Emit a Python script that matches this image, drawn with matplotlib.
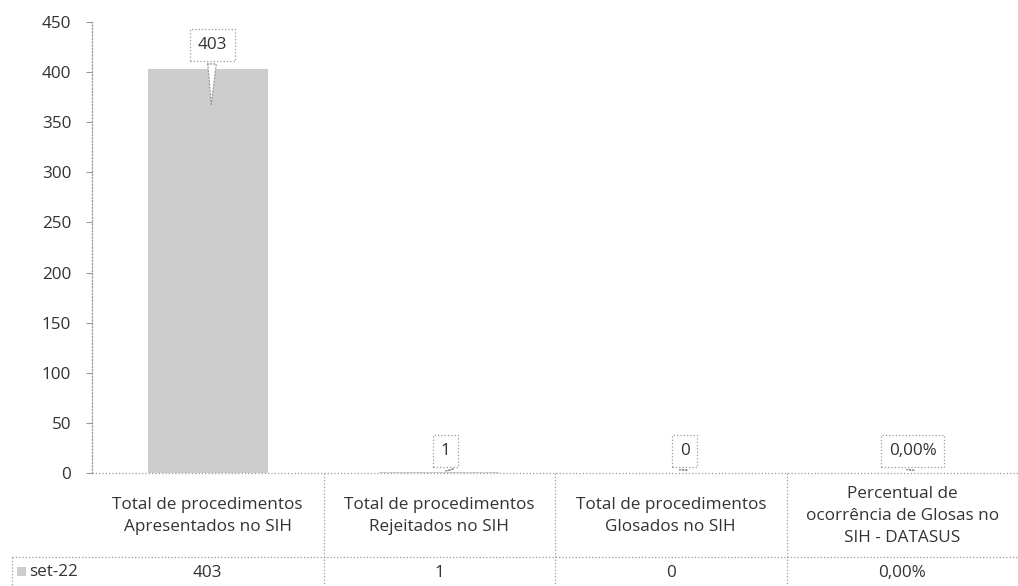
import matplotlib
matplotlib.use("Agg")
import matplotlib.pyplot as plt
from matplotlib.patches import Rectangle

categories = ["Total de procedimentos\nApresentados no SIH",
              "Total de procedimentos\nRejeitados no SIH",
              "Total de procedimentos\nGlosados no SIH",
              "Percentual de\nocorrência de Glosas no\nSIH - DATASUS"]
values = [403, 1, 0, 0.0]
value_labels = ["403", "1", "0", "0,00%"]
series_name = "set-22"
yticks = [0, 50, 100, 150, 200, 250, 300, 350, 400, 450]

plt.rcParams['font.family'] = ['Open Sans', 'DejaVu Sans']
W, H = 1018, 586
fig = plt.figure(figsize=(W/100, H/100), dpi=100)
ax = fig.add_axes([92/W, (H-473)/H, (W-92)/W, (473-22)/H])

grey = '#9a9a9a'
txt = '#333333'
barcol = '#cdcdcd'
fs = 12.3
x = list(range(len(categories)))
ax.bar(x, values, width=0.52, color=barcol, edgecolor='none', zorder=2)
ax.set_xlim(-0.5, len(categories)-0.5)
ax.set_ylim(0, 450)
ax.set_yticks(yticks)
ax.set_yticklabels([str(t) for t in yticks], fontsize=fs, color=txt)
ax.set_xticks([])
for s in ['top', 'right', 'bottom']:
    ax.spines[s].set_visible(False)
ax.spines['left'].set_color(grey)
ax.spines['left'].set_linestyle(':')
ax.spines['left'].set_linewidth(0.9)
ax.tick_params(axis='y', length=4, color=grey, width=0.8, pad=11)

# callouts: (text x offset, text y, pointer x offset, pointer y)
offsets = [(0.02, 427, 0.015, 365), (0.026, 22, 0.05, 0), (0.06, 22, 0.055, 0), (0.045, 22, 0.035, 0)]
for i, (lab, off) in enumerate(zip(value_labels, offsets)):
    dx, ty, pxo, py = off
    ax.annotate(lab, xy=(i + pxo, py), xytext=(i + dx, ty),
                ha='center', va='center', fontsize=fs, color=txt, zorder=5,
                bbox=dict(boxstyle='square,pad=0.45', fc='white', ec=grey, ls=':', lw=0.9),
                arrowprops=dict(arrowstyle='wedge,tail_width=0.5,shrink_factor=0.5',
                                fc='white', ec=grey, ls=':', lw=0.9))

# table
tr = ax.get_xaxis_transform()
ppu = (473-22)
y_head = -(557-473)/ppu
y_data = -(586-473)/ppu + 0.002
line_kw = dict(color=grey, ls=':', lw=0.9, clip_on=False, transform=tr)
ax.plot([-0.5, 3.5], [0, 0], **line_kw)
ax.plot([-0.5 - 80/231.5, 3.5], [y_head, y_head], **line_kw)
for b in [0.5, 1.5, 2.5]:
    ax.plot([b, b], [0, y_data], **line_kw)
ax.plot([-0.5 - 80/231.5, -0.5 - 80/231.5], [y_head, y_data], **line_kw)
for i, c in enumerate(categories):
    ax.text(i, y_head/2 - 0.003, c, ha='center', va='center', fontsize=fs, color=txt,
            transform=tr, clip_on=False, linespacing=1.5)
    ax.text(i, (y_head + y_data)/2 - 0.005, value_labels[i], ha='center', va='center',
            fontsize=fs, color=txt, transform=tr, clip_on=False)
# legend cell
fig.patches.append(Rectangle((17/W, (H-576)/H), 9/W, 9/H, transform=fig.transFigure,
                             fc=barcol, ec='none'))
fig.text(29/W, (H-572)/H, series_name, ha='left', va='center', fontsize=fs, color=txt)

fig.savefig("out.png", dpi=100, facecolor='white')
